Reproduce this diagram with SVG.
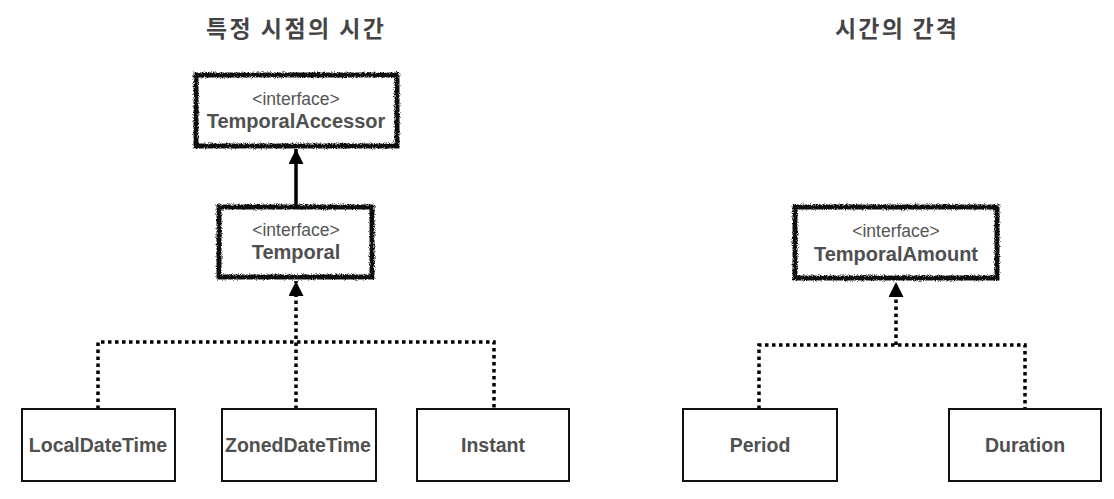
<svg xmlns="http://www.w3.org/2000/svg" width="1114" height="499" viewBox="0 0 1114 499">
<defs>
<filter id="rough" x="-5%" y="-10%" width="110%" height="120%">
<feTurbulence type="fractalNoise" baseFrequency="1.1" numOctaves="2" seed="3" result="n"/>
<feDisplacementMap in="SourceGraphic" in2="n" scale="4" xChannelSelector="R" yChannelSelector="G"/>
</filter>
<marker id="tri" viewBox="0 0 15 15" refX="15" refY="7.5" markerWidth="15" markerHeight="15" markerUnits="userSpaceOnUse" orient="auto">
<path d="M0,0 L15,7.5 L0,15 Z" fill="#000"/>
</marker>
</defs>
<style>
.title{font-family:"Noto Sans CJK KR","Liberation Sans",sans-serif;font-weight:bold;font-size:23px;fill:#444;text-anchor:middle}
.iface{font-family:"Liberation Sans",Arial,sans-serif;font-size:17.5px;fill:#555;text-anchor:middle}
.name{font-family:"Liberation Sans",Arial,sans-serif;font-weight:bold;font-size:20px;fill:#505050;text-anchor:middle}
.cls{font-family:"Liberation Sans",Arial,sans-serif;font-weight:bold;font-size:19.5px;fill:#505050;text-anchor:middle}
.ibox{fill:#fff;stroke:#111;stroke-width:5;filter:url(#rough)}
.box{fill:#fff;stroke:#111;stroke-width:2}
.dot{fill:none;stroke:#000;stroke-width:3.5;stroke-dasharray:3.5 3.5}
.solid{fill:none;stroke:#000;stroke-width:3.5}
</style>
<rect width="1114" height="499" fill="#fff"/>
<text class="title" x="295" y="37" textLength="178" lengthAdjust="spacing">특정 시점의 시간</text>
<text class="title" x="896" y="37" textLength="122" lengthAdjust="spacing">시간의 간격</text>

<g id="connectors">
<path class="solid" d="M296,206 L296,149" marker-end="url(#tri)"/>
<path class="dot" d="M296,409 L296,281" marker-end="url(#tri)"/>
<path class="dot" d="M98,409 L98,342 L494,342 L494,409"/>
<path class="dot" d="M896,345 L896,282" marker-end="url(#tri)"/>
<path class="dot" d="M759,409 L759,345 L1025,345 L1025,409"/>
</g>

<g id="TemporalAccessor">
<rect class="ibox" x="196" y="75" width="201" height="71"/>
<text class="iface" x="296" y="105">&lt;interface&gt;</text>
<text class="name" x="296" y="128">TemporalAccessor</text>
</g>
<g id="Temporal">
<rect class="ibox" x="219" y="207" width="153" height="70"/>
<text class="iface" x="296" y="236">&lt;interface&gt;</text>
<text class="name" x="296" y="259">Temporal</text>
</g>
<g id="LocalDateTime">
<rect class="box" x="22" y="409" width="153" height="72"/>
<text class="cls" x="98" y="452">LocalDateTime</text>
</g>
<g id="ZonedDateTime">
<rect class="box" x="222" y="409" width="154" height="72"/>
<text class="cls" x="298" y="452">ZonedDateTime</text>
</g>
<g id="Instant">
<rect class="box" x="417" y="409" width="152" height="72"/>
<text class="cls" x="493" y="452">Instant</text>
</g>
<g id="TemporalAmount">
<rect class="ibox" x="795" y="207" width="202" height="71"/>
<text class="iface" x="896" y="237">&lt;interface&gt;</text>
<text class="name" x="896" y="261">TemporalAmount</text>
</g>
<g id="Period">
<rect class="box" x="683" y="409" width="154" height="72"/>
<text class="cls" x="760" y="452">Period</text>
</g>
<g id="Duration">
<rect class="box" x="949" y="409" width="152" height="72"/>
<text class="cls" x="1025" y="452">Duration</text>
</g>
</svg>
